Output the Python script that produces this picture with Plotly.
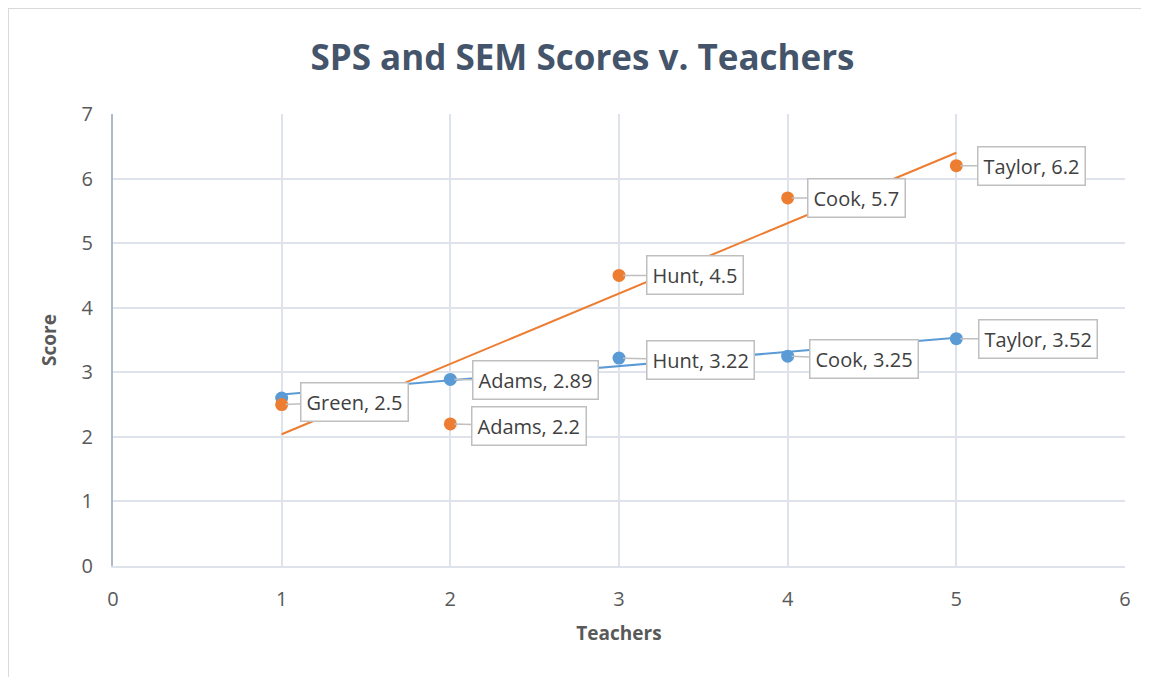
import numpy as np
import plotly.graph_objects as go

teachers_x = [1, 2, 3, 4, 5]
names = ["Green", "Adams", "Hunt", "Cook", "Taylor"]
sps_scores = [2.6, 2.89, 3.22, 3.25, 3.52]   # blue
sem_scores = [2.5, 2.2, 4.5, 5.7, 6.2]       # orange

BLUE = "#5B9BD5"
ORANGE = "#ED7D31"
TXT = "#595959"
GRID = "#DEE3EB"
FONT = "Open Sans"

fig = go.Figure()

# trendlines (linear fits)
for ys, col in [(sem_scores, ORANGE), (sps_scores, BLUE)]:
    m, b = np.polyfit(teachers_x, ys, 1)
    xs = [teachers_x[0], teachers_x[-1]]
    fig.add_trace(go.Scatter(x=xs, y=[m * v + b for v in xs], mode="lines",
                             line=dict(color=col, width=2), hoverinfo="skip", showlegend=False))

fig.add_trace(go.Scatter(x=teachers_x, y=sps_scores, mode="markers",
                         marker=dict(color=BLUE, size=13), showlegend=False, name="SPS"))
fig.add_trace(go.Scatter(x=teachers_x, y=sem_scores, mode="markers",
                         marker=dict(color=ORANGE, size=13), showlegend=False, name="SEM"))

# data label callouts
label_specs = [
    (sem_scores, [0, 1, 2, 3, 4], [(73, -3), (79, 2), (76, 0), (69, 0), (75, 0)]),
    (sps_scores, [1, 2, 3, 4], [(85, 1), (81, 2), (76, 3), (82, 0)]),
]
for ys, idxs, offs in label_specs:
    for i, (ax, ay) in zip(idxs, offs):
        fig.add_annotation(
            x=teachers_x[i], y=ys[i], text=f"{names[i]}, {ys[i]:g}",
            showarrow=True, arrowhead=0, arrowcolor="#BFBFBF", arrowwidth=1.5,
            ax=ax, ay=ay, standoff=4,
            bgcolor="white", bordercolor="#BFBFBF", borderwidth=1.5, borderpad=5,
            font=dict(family=FONT, size=20, color="#404040"),
        )

# outer chart border
fig.add_shape(type="rect", xref="paper", yref="paper",
              x0=-0.1038, x1=1.2, y0=-0.4, y1=1.2345,
              line=dict(color="#D9D9D9", width=2), fillcolor="rgba(0,0,0,0)", layer="below")

fig.update_layout(
    width=1149, height=677,
    margin=dict(l=105, r=32, t=106, b=119),
    paper_bgcolor="white", plot_bgcolor="white",
    title=dict(text="<b>SPS and SEM Scores v. Teachers</b>", x=0.5, xanchor="center",
               y=0.927, yanchor="middle",
               font=dict(family=FONT, size=35, color="#44546A")),
    font=dict(family=FONT, color=TXT),
    xaxis=dict(range=[0, 6], dtick=1, showgrid=True, gridcolor=GRID, gridwidth=1.5,
               zeroline=False, showline=True, linecolor=GRID, linewidth=1.5,
               tickfont=dict(family=FONT, size=20, color=TXT), ticks="", ticklabelstandoff=14,
               title=dict(text="<b>Teachers</b>", font=dict(family=FONT, size=19, color=TXT), standoff=16)),
    yaxis=dict(range=[0, 7], dtick=1, showgrid=True, gridcolor=GRID, gridwidth=1.5,
               zeroline=False, showline=True, linecolor="#AEBACB", linewidth=2,
               tickfont=dict(family=FONT, size=20, color=TXT), ticks="", ticklabelstandoff=14,
               title=dict(text="<b>Score</b>", font=dict(family=FONT, size=19, color=TXT), standoff=20)),
)

fig.write_html("out.html")
